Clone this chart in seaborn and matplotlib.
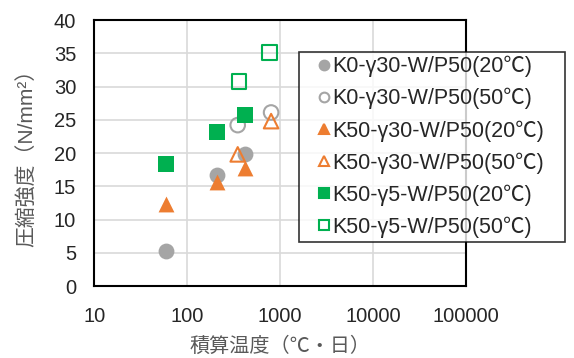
import numpy as np
import pandas as pd
import matplotlib
matplotlib.use("Agg")
import matplotlib.pyplot as plt
import seaborn as sns
from matplotlib.lines import Line2D
from matplotlib.ticker import FixedLocator, LogLocator, FuncFormatter, NullFormatter

# Data
k0_20_x = [60, 210, 420]
k0_20_y = [5.2, 16.7, 19.8]
k0_50_x = [350, 800]
k0_50_y = [24.2, 26.1]
k50g30_20_x = [60, 210, 420]
k50g30_20_y = [12.3, 15.7, 17.8]
k50g30_50_x = [350, 800]
k50g30_50_y = [19.8, 24.8]
k50g5_20_x = [60, 210, 420]
k50g5_20_y = [18.3, 23.1, 25.7]
k50g5_50_x = [360, 770]
k50g5_50_y = [30.8, 35.1]

labels = ["K0-γ30-W/P50(20℃)", "K0-γ30-W/P50(50℃)",
          "K50-γ30-W/P50(20℃)", "K50-γ30-W/P50(50℃)",
          "K50-γ5-W/P50(20℃)", "K50-γ5-W/P50(50℃)"]

grey = "#A5A5A5"
orange = "#ED7D31"
green = "#00B050"

series = [
    (k0_20_x, k0_20_y, "o", grey, True),
    (k0_50_x, k0_50_y, "o", grey, False),
    (k50g30_20_x, k50g30_20_y, "^", orange, True),
    (k50g30_50_x, k50g30_50_y, "^", orange, False),
    (k50g5_20_x, k50g5_20_y, "s", green, True),
    (k50g5_50_x, k50g5_50_y, "s", green, False),
]

sns.set_style("white")
plt.rcParams['font.family'] = ['Liberation Sans', 'Noto Sans CJK JP', 'DejaVu Sans']

fig = plt.figure(figsize=(5.74, 3.58), dpi=100)
ax = fig.add_axes([0.164, 0.201, 0.648, 0.743])

for (xs, ys, m, c, filled), lab in zip(series, labels):
    df = pd.DataFrame({"x": xs, "y": ys})
    if filled:
        sns.scatterplot(data=df, x="x", y="y", marker=m, s=130, facecolor=c,
                        edgecolor=c, linewidth=0, ax=ax, zorder=3)
    else:
        sns.scatterplot(data=df, x="x", y="y", marker=m, s=110, facecolor="none",
                        edgecolor=c, linewidth=1.5, ax=ax, zorder=3)

ax.set_xscale("log")
ax.set_xlim(10, 100000)
ax.set_ylim(0, 40)
ax.set_yticks(np.arange(0, 41, 5))
ax.xaxis.set_major_locator(FixedLocator([10, 100, 1000, 10000, 100000]))
ax.xaxis.set_major_formatter(FuncFormatter(lambda v, p: f"{int(round(v))}"))
ax.xaxis.set_minor_locator(LogLocator(base=10, subs=np.arange(2, 10)))
ax.xaxis.set_minor_formatter(NullFormatter())
ax.grid(True, which="major", color="#D9D9D9", linewidth=1.2)
ax.set_axisbelow(True)
for sp in ax.spines.values():
    sp.set_color("black")
    sp.set_linewidth(1.5)
ax.tick_params(axis="x", which="major", direction="in", length=6, width=1, labelsize=14.5, pad=15)
ax.tick_params(axis="x", which="minor", direction="in", length=3, width=1)
ax.tick_params(axis="y", which="both", length=0, labelsize=14.5, pad=13)
ax.set_xlabel("積算温度（℃・日）", fontsize=14.5, color="#595959", labelpad=8)
ax.set_ylabel("圧縮強度（N/mm²）", fontsize=15, color="#595959", labelpad=12)

handles = []
for (xs, ys, m, c, filled), lab in zip(series, labels):
    handles.append(Line2D([], [], linestyle="none", marker=m, markersize=7,
                          markerfacecolor=c if filled else "none",
                          markeredgecolor=c, markeredgewidth=1.5, label=lab))
leg = fig.legend(handles=handles, loc="upper left",
                 bbox_to_anchor=(0.521, 0.332, 0.463, 0.524), mode="expand",
                 frameon=True, fontsize=15.5, handlelength=1.9, handletextpad=-0.55,
                 labelspacing=0.5, borderpad=0.2, borderaxespad=0, fancybox=False)
leg.get_frame().set_edgecolor("black")
leg.get_frame().set_linewidth(1.2)

fig.savefig("out.png", dpi=100)
